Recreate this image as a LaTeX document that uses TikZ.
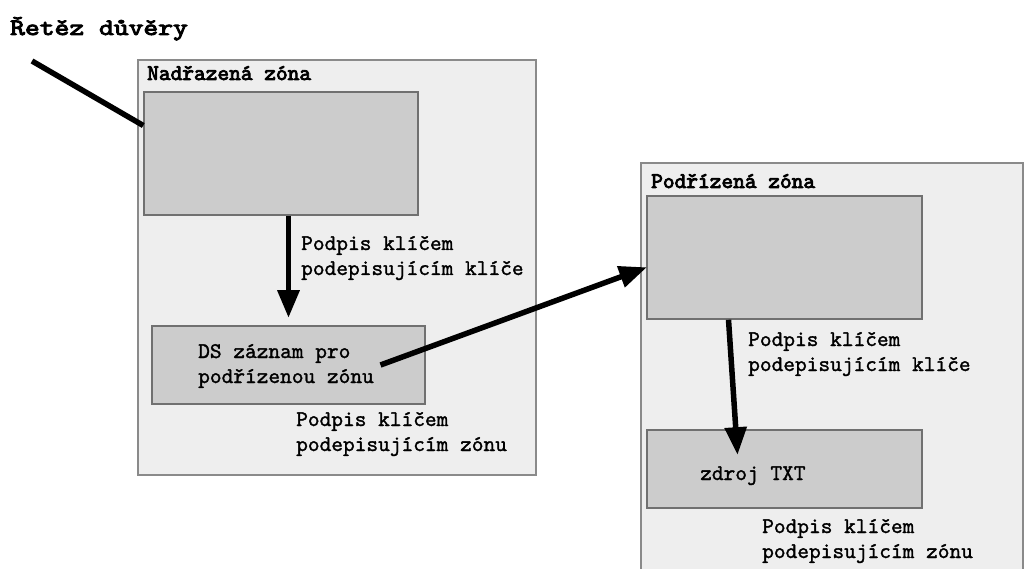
\documentclass[tikz,border=0pt]{standalone}
\usepackage{fontspec}
\usepackage{graphicx}
\newfontfamily\pismo[FakeBold=1.3]{lmmono10-regular.otf}
\newfontfamily\pismotucne[FakeBold=3.5]{lmmono10-regular.otf}
\usetikzlibrary{arrows}

\definecolor{zonabg}{HTML}{EEEEEE}
\definecolor{zonaokraj}{HTML}{8A8A8A}
\definecolor{klicbg}{HTML}{CCCCCC}
\definecolor{klicokraj}{HTML}{707070}

\begin{document}
\begin{tikzpicture}[>=triangle 45,x=1pt,y=-1pt,
	zona/.style={draw=zonaokraj,fill=zonabg,line width=1.5pt,inner sep=0pt},
	klic/.style={draw=klicokraj,fill=klicbg,line width=1.5pt,inner sep=0pt},
	popis/.style={anchor=base west,align=left,inner sep=0pt,font=\pismo\fontsize{22.3}{25}\selectfont},
	nadpis/.style={anchor=base west,inner sep=0pt,font=\pismotucne\fontsize{22.3}{25}\selectfont}]
				\useasboundingbox (0,0) rectangle (1025,569);
				\clip (0,0) rectangle (1025,569);

				%Zóny kreslit
				\node[zona,minimum width=398,minimum height=415] (nadrzona) at (337,267.5) {};
				\node[zona,minimum width=382,minimum height=437] (podrzona) at (832,381.5) {};

				%Klíče a záznamy
				\node[klic,minimum width=274,minimum height=123] (nadrklic) at (281,153.5) {};
				\node[klic,minimum width=273,minimum height=78] (ds) at (288.5,365) {};
				\node[klic,minimum width=275,minimum height=123] (podrklic) at (784.5,257.5) {};
				\node[klic,minimum width=275,minimum height=78] (txt) at (784.5,469) {};

				%Texty (base = posledni radek)
				\node[nadpis,font=\pismotucne\fontsize{23.5}{26}\selectfont] (titul) at (10,35) {\scalebox{1.2}[1]{Řetěz důvěry}};
				\node[nadpis] (nadrnadpis) at (147,80) {Nadřazená zóna};
				\node[nadpis] (podrnadpis) at (651,188) {Podřízená zóna};
				\node[popis] (dstext) at (198,383) {DS záznam pro\\podřízenou zónu};
				\node[popis] (txttext) at (700,480) {zdroj TXT};
				\foreach \x/\y/\jmeno/\co in
					{301/275/podpisA/klíče,296/451/podpisB/zónu,748/371/podpisC/klíče,762/558/podpisD/zónu}
						\node[popis] (\jmeno) at (\x,\y) {Podpis klíčem\\podepisujícím \co};

				%Šipky kreslit
				\coordinate (zacatek) at (32,61);
				\draw[line width=5.5pt] (zacatek) -- ([yshift=28pt]nadrklic.west);
				\draw[->,line width=5.5pt] (nadrklic.south -| ds.north) -- ([yshift=8pt]ds.north);
				\draw[->,line width=5.5pt] ([xshift=92pt]ds.center) -- ([yshift=-10pt]podrklic.west);
				\draw[->,line width=5.5pt] ([xshift=-56pt]podrklic.south) -- ([xshift=-47pt,yshift=-25pt]txt.north);
	\end{tikzpicture}
\end{document}
